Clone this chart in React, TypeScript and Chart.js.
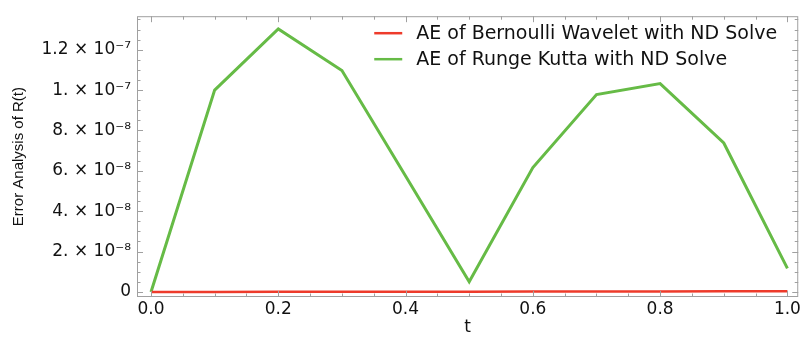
import React, { useEffect, useRef } from "react";
import { Chart, registerables } from "chart.js";

Chart.register(...registerables);

// Sample times
const tValues = [0, 0.1, 0.2, 0.3, 0.4, 0.5, 0.6, 0.7, 0.8, 0.9, 1.0];

// Absolute error series
const bernoulliAE = [0, 2e-11, 5e-11, 8e-11, 1.1e-10, 1.5e-10, 1.9e-10, 2.3e-10, 2.8e-10, 3.3e-10, 3.8e-10];
const rungeKuttaAE = [0, 1.0e-7, 1.303e-7, 1.097e-7, 5.74e-8, 5.1e-9, 6.16e-8, 9.78e-8, 1.032e-7, 7.38e-8, 1.17e-8];

const seriesLabels = [
  "AE of Bernoulli Wavelet with ND Solve",
  "AE of Runge Kutta with ND Solve",
];
const seriesColors = ["#ee3b2b", "#66bb46"];

// Axis ticks
const xTickValues = [0, 0.2, 0.4, 0.6, 0.8, 1.0];
const xTickLabels = ["0.0", "0.2", "0.4", "0.6", "0.8", "1.0"];
const yTickValues = [0, 2e-8, 4e-8, 6e-8, 8e-8, 1e-7, 1.2e-7];
const yTickLabels = [
  "0",
  "2. \u00d7 10\u207b\u2078",
  "4. \u00d7 10\u207b\u2078",
  "6. \u00d7 10\u207b\u2078",
  "8. \u00d7 10\u207b\u2078",
  "1. \u00d7 10\u207b\u2077",
  "1.2 \u00d7 10\u207b\u2077",
];

const X_MIN = -0.022;
const X_MAX = 1.017;
const Y_MIN = -2.5e-9;
const Y_MAX = 1.366e-7;

const TEXT_FONT = "'DejaVu Sans', 'Liberation Sans', sans-serif";
const TEXT_COLOR = "#111";

// Frame with inward ticks on all four sides, in the style of a framed plot
const framePlugin = {
  id: "frameTicks",
  afterDatasetsDraw(chart: any) {
    const { ctx, chartArea, scales } = chart;
    const { left, right, top, bottom } = chartArea;
    const xs = scales.x;
    const ys = scales.y;
    ctx.save();
    ctx.strokeStyle = "#a0a0a0";
    ctx.lineWidth = 1;
    ctx.strokeRect(left + 0.5, top + 0.5, right - left - 1, bottom - top - 1);

    ctx.beginPath();
    for (let i = 0; i <= 20; i++) {
      const v = i * 0.05;
      const major = i % 4 === 0;
      const len = major ? 6 : 3.5;
      const px = Math.round(xs.getPixelForValue(v)) + 0.5;
      ctx.moveTo(px, bottom);
      ctx.lineTo(px, bottom - len);
      ctx.moveTo(px, top);
      ctx.lineTo(px, top + len);
    }
    for (let i = 0; i <= 27; i++) {
      const v = i * 5e-9;
      const major = i % 4 === 0;
      const len = major ? 6 : 3.5;
      const py = Math.round(ys.getPixelForValue(v)) + 0.5;
      if (py < top || py > bottom) continue;
      ctx.moveTo(left, py);
      ctx.lineTo(left + len, py);
      ctx.moveTo(right, py);
      ctx.lineTo(right - len, py);
    }
    ctx.stroke();
    ctx.restore();
  },
};

// Legend drawn inside the plot area, top right
const insideLegend = {
  id: "insideLegend",
  afterDraw(chart: any) {
    const { ctx, chartArea } = chart;
    const x0 = chartArea.right - 424;
    const y0 = chartArea.top + 17;
    const rowGap = 26;
    ctx.save();
    ctx.font = `19px ${TEXT_FONT}`;
    ctx.textBaseline = "middle";
    ctx.textAlign = "left";
    chart.data.datasets.forEach((ds: any, i: number) => {
      const y = y0 + i * rowGap;
      ctx.strokeStyle = ds.borderColor;
      ctx.lineWidth = 2.5;
      ctx.beginPath();
      ctx.moveTo(x0, y);
      ctx.lineTo(x0 + 28, y);
      ctx.stroke();
      ctx.fillStyle = TEXT_COLOR;
      ctx.fillText(ds.label, x0 + 42, y + 1);
    });
    ctx.restore();
  },
};

export default function App() {
  const canvasRef = useRef<HTMLCanvasElement | null>(null);

  useEffect(() => {
    document.body.style.margin = "0";
    const canvas = canvasRef.current;
    if (!canvas) return;

    const chart = new Chart(canvas, {
      type: "line",
      data: {
        datasets: [
          {
            label: seriesLabels[0],
            data: tValues.map((t, i) => ({ x: t, y: bernoulliAE[i] })),
            borderColor: seriesColors[0],
            backgroundColor: seriesColors[0],
            borderWidth: 2.5,
            pointRadius: 0,
            tension: 0,
          },
          {
            label: seriesLabels[1],
            data: tValues.map((t, i) => ({ x: t, y: rungeKuttaAE[i] })),
            borderColor: seriesColors[1],
            backgroundColor: seriesColors[1],
            borderWidth: 3,
            pointRadius: 0,
            tension: 0,
          },
        ],
      },
      options: {
        animation: false,
        responsive: false,
        devicePixelRatio: 1,
        layout: { padding: { top: 15, right: 4, left: 0, bottom: 0 } },
        plugins: {
          legend: { display: false },
          tooltip: { enabled: false },
        },
        scales: {
          x: {
            type: "linear",
            min: X_MIN,
            max: X_MAX,
            grid: { display: false, drawTicks: false },
            border: { display: false },
            afterBuildTicks: (scale: any) => {
              scale.ticks = xTickValues.map((v) => ({ value: v }));
            },
            afterFit: (scale: any) => {
              scale.height = 42;
            },
            ticks: {
              padding: 2,
              color: TEXT_COLOR,
              font: { family: TEXT_FONT, size: 17 },
              maxRotation: 0,
              callback: (value: any) => {
                const idx = xTickValues.findIndex((v) => Math.abs(v - value) < 1e-9);
                return idx >= 0 ? xTickLabels[idx] : "";
              },
            },
            title: {
              display: true,
              text: "t",
              color: TEXT_COLOR,
              font: { family: TEXT_FONT, size: 17 },
              padding: { top: 0, bottom: 1 },
            },
          },
          y: {
            type: "linear",
            min: Y_MIN,
            max: Y_MAX,
            grid: { display: false, drawTicks: false },
            border: { display: false },
            afterBuildTicks: (scale: any) => {
              scale.ticks = yTickValues.map((v) => ({ value: v }));
            },
            afterFit: (scale: any) => {
              scale.width = 137;
            },
            ticks: {
              padding: 6,
              color: TEXT_COLOR,
              font: { family: TEXT_FONT, size: 17 },
              callback: (value: any) => {
                const idx = yTickValues.findIndex((v) => Math.abs(v - value) < 1e-12);
                return idx >= 0 ? yTickLabels[idx] : "";
              },
            },
            title: {
              display: true,
              text: "Error Analysis of R(t)",
              color: TEXT_COLOR,
              font: { family: "'Liberation Sans', Arial, sans-serif", size: 15 },
              padding: { top: 10, bottom: 0 },
            },
          },
        },
      },
      plugins: [framePlugin, insideLegend],
    });

    return () => {
      chart.destroy();
    };
  }, []);

  return (
    <div style={{ position: "fixed", left: 0, top: 0, width: 803, height: 339, background: "#fff" }}>
      <canvas ref={canvasRef} width={803} height={339} />
    </div>
  );
}
